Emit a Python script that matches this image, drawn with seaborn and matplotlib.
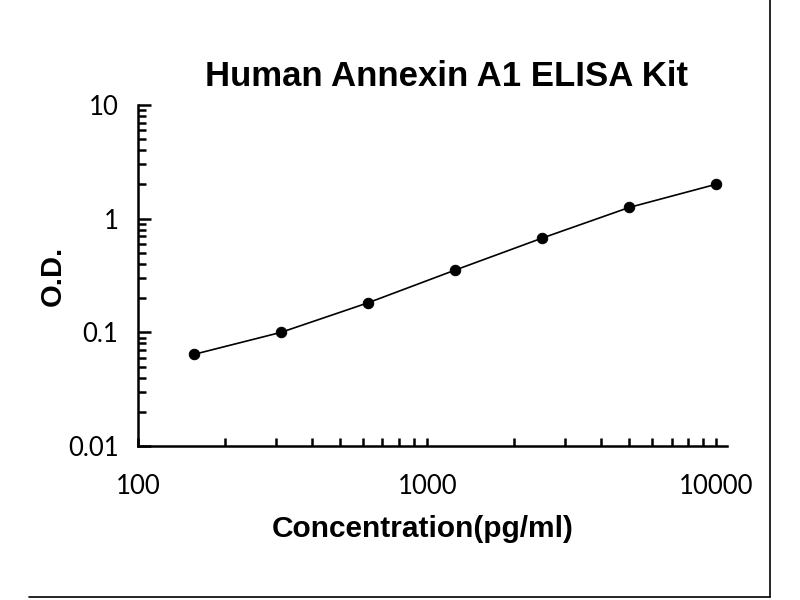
import matplotlib
matplotlib.use("Agg")
import matplotlib.pyplot as plt
import seaborn as sns
import pandas as pd
from matplotlib.lines import Line2D
from matplotlib.ticker import LogLocator, NullFormatter, FixedLocator, FixedFormatter

# standard curve values
concentration = [156.25, 312.5, 625, 1250, 2500, 5000, 10000]
od = [0.064, 0.100, 0.182, 0.353, 0.675, 1.256, 2.01]

x_ticks = [100, 1000, 10000]
x_labels = ["100", "1000", "10000"]
y_ticks = [0.01, 0.1, 1, 10]
y_labels = ["0.01", "0.1", "1", "10"]

data = pd.DataFrame({"Concentration": concentration, "OD": od})

sns.set_style("ticks")
plt.rcParams["font.family"] = ["Liberation Sans", "DejaVu Sans"]
plt.rcParams["text.color"] = "black"
plt.rcParams["axes.labelcolor"] = "black"
plt.rcParams["xtick.color"] = "black"
plt.rcParams["ytick.color"] = "black"

fig = plt.figure(figsize=(8, 6), dpi=100)
ax = fig.add_axes([0.1725, 0.2567, 0.909 - 0.1725, 0.825 - 0.2567])

sns.lineplot(data=data, x="Concentration", y="OD", ax=ax, color="black",
             linewidth=1.2, marker="o", markersize=7.5, markeredgecolor="black")

ax.set_xscale("log")
ax.set_yscale("log")
ax.set_xlim(100, 10900)
ax.set_ylim(0.01, 10)

ax.xaxis.set_major_locator(FixedLocator(x_ticks))
ax.xaxis.set_major_formatter(FixedFormatter(x_labels))
ax.yaxis.set_major_locator(FixedLocator(y_ticks))
ax.yaxis.set_major_formatter(FixedFormatter(y_labels))
ax.xaxis.set_minor_locator(LogLocator(base=10, subs=range(2, 10)))
ax.yaxis.set_minor_locator(LogLocator(base=10, subs=range(2, 10)))
ax.xaxis.set_minor_formatter(NullFormatter())
ax.yaxis.set_minor_formatter(NullFormatter())

for side in ["top", "right"]:
    ax.spines[side].set_visible(False)
for side in ["left", "bottom"]:
    ax.spines[side].set_linewidth(1.8)
    ax.spines[side].set_color("black")

ax.tick_params(axis="both", which="both", direction="in", color="black", width=1.8,
               bottom=True, left=True, top=False, right=False)
ax.tick_params(axis="y", which="major", length=9, pad=14)
ax.tick_params(axis="y", which="minor", length=6)
ax.tick_params(axis="x", which="major", length=6, pad=20)
ax.tick_params(axis="x", which="minor", length=6)
for lab in ax.get_xticklabels() + ax.get_yticklabels():
    lab.set_fontfamily("Lato")
    lab.set_fontsize(18.5)
    lab.set_color("black")

ax.set_xlabel("Concentration(pg/ml)", fontsize=21.5, fontweight="bold", labelpad=12,
              color="black")
ax.xaxis.label.set_x(0.484)
ax.set_ylabel("O.D.", fontsize=21, fontweight="bold", labelpad=0.5, color="black")
ax.set_title("Human Annexin A1 ELISA Kit", fontsize=25, fontweight="bold", pad=14,
             x=0.524, color="black")

# frame lines on the right and bottom of the picture
fig.add_artist(Line2D([770 / 800, 770 / 800], [1 - 597 / 600, 1.0],
                      transform=fig.transFigure, color="black", linewidth=1.2))
fig.add_artist(Line2D([29 / 800, 770 / 800], [1 - 597 / 600, 1 - 597 / 600],
                      transform=fig.transFigure, color="black", linewidth=1.2))

fig.savefig("out.png", dpi=100)
